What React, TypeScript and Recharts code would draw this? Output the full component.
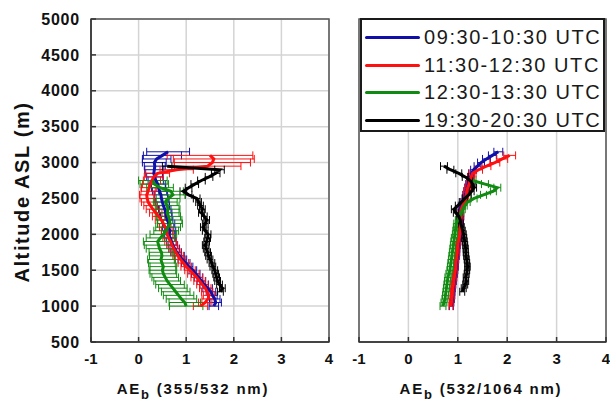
import {
  ScatterChart,
  Scatter,
  XAxis,
  YAxis,
  CartesianGrid,
  ErrorBar,
  ReferenceArea,
  Legend,
  Label,
} from 'recharts'

const FONT = 'Arial, "Liberation Sans", sans-serif'

// altitude levels of the lidar profiles (m ASL)
const ALTITUDES = [
  1000, 1050, 1100, 1150, 1200, 1250, 1300, 1350, 1400, 1450, 1500, 1550, 1600, 1650, 1700,
  1750, 1800, 1850, 1900, 1950, 2000, 2050, 2100, 2150, 2200, 2250, 2300, 2350, 2400, 2450,
  2500, 2550, 2600, 2650, 2700, 2750, 2800, 2850, 2900, 2950, 3000, 3050, 3100, 3150,
]

const X_TICKS = [-1, 0, 1, 2, 3, 4]
const Y_TICKS = [500, 1000, 1500, 2000, 2500, 3000, 3500, 4000, 4500, 5000]

const PERIODS = ['09:30-10:30 UTC', '11:30-12:30 UTC', '12:30-13:30 UTC', '19:30-20:30 UTC']
const COLORS = ['#1010a8', '#ff1010', '#108a10', '#000000']

type V = number | null

// AE 355/532
const AE1_BLUE: V[] = [1.58, 1.62, 1.6, 1.55, 1.52, 1.45, 1.38, 1.32, 1.26, 1.2, 1.14, 1.05, 0.99, 0.92, 0.86, 0.8, 0.76, 0.72, 0.69, 0.66, 0.64, 0.66, 0.62, 0.64, 0.6, 0.58, 0.57, 0.55, 0.52, 0.5, 0.48, 0.47, 0.44, 0.42, 0.4, 0.36, 0.34, 0.32, 0.33, 0.34, 0.33, 0.38, 0.5, 0.62]
const ERR1_BLUE: V[] = [0.1, 0.12, 0.11, 0.1, 0.1, 0.1, 0.09, 0.09, 0.09, 0.09, 0.08, 0.09, 0.09, 0.09, 0.1, 0.1, 0.1, 0.1, 0.1, 0.11, 0.11, 0.12, 0.12, 0.12, 0.12, 0.12, 0.13, 0.13, 0.13, 0.14, 0.14, 0.14, 0.15, 0.15, 0.16, 0.16, 0.17, 0.18, 0.2, 0.22, 0.25, 0.3, 0.4, 0.45]
const AE1_RED: V[] = [1.3, 1.4, 1.46, 1.48, 1.44, 1.4, 1.34, 1.28, 1.22, 1.15, 1.08, 1.0, 0.94, 0.88, 0.83, 0.78, 0.74, 0.7, 0.67, 0.63, 0.6, 0.6, 0.56, 0.52, 0.48, 0.42, 0.36, 0.3, 0.25, 0.2, 0.18, 0.17, 0.2, 0.22, 0.24, 0.28, 0.32, 0.4, 0.8, 1.45, 1.55, 1.58, 1.5, null]
const ERR1_RED: V[] = [0.15, 0.14, 0.13, 0.12, 0.12, 0.12, 0.12, 0.12, 0.12, 0.12, 0.11, 0.11, 0.11, 0.11, 0.11, 0.11, 0.11, 0.11, 0.12, 0.12, 0.12, 0.12, 0.12, 0.12, 0.13, 0.13, 0.13, 0.14, 0.14, 0.14, 0.15, 0.15, 0.15, 0.16, 0.16, 0.18, 0.2, 0.25, 0.35, 0.7, 0.8, 0.85, 0.9, null]
const AE1_GREEN: V[] = [1.0, 0.97, 0.9, 0.84, 0.78, 0.72, 0.66, 0.6, 0.56, 0.52, 0.5, 0.52, 0.49, 0.47, 0.49, 0.48, 0.44, 0.42, 0.4, 0.46, 0.52, 0.58, 0.62, 0.66, 0.65, 0.63, 0.6, 0.62, 0.6, 0.56, 0.62, 0.72, 0.68, 0.45, 0.33, 0.3, null, null, null, null, null, null, null, null]
const ERR1_GREEN: V[] = [0.35, 0.33, 0.32, 0.32, 0.3, 0.3, 0.3, 0.28, 0.28, 0.28, 0.28, 0.28, 0.28, 0.28, 0.26, 0.26, 0.28, 0.3, 0.3, 0.3, 0.28, 0.26, 0.26, 0.26, 0.26, 0.25, 0.25, 0.25, 0.25, 0.25, 0.25, 0.26, 0.26, 0.28, 0.3, 0.3, null, null, null, null, null, null, null, null]
const AE1_BLACK: V[] = [null, null, null, null, 1.72, 1.76, 1.7, 1.66, 1.64, 1.62, 1.6, 1.56, 1.54, 1.5, 1.47, 1.45, 1.42, 1.4, 1.43, 1.45, 1.46, 1.4, 1.36, 1.4, 1.43, 1.38, 1.32, 1.34, 1.3, 1.26, 1.22, 1.05, 0.94, 1.05, 1.18, 1.32, 1.48, 1.62, 1.7, 0.6, null, null, null, null]
const ERR1_BLACK: V[] = [null, null, null, null, 0.06, 0.06, 0.06, 0.06, 0.06, 0.06, 0.06, 0.06, 0.06, 0.06, 0.06, 0.06, 0.06, 0.06, 0.06, 0.06, 0.06, 0.06, 0.06, 0.06, 0.06, 0.06, 0.06, 0.06, 0.06, 0.06, 0.07, 0.07, 0.07, 0.07, 0.08, 0.08, 0.08, 0.09, 0.1, 0.1, null, null, null, null]

// AE 532/1064
const AE2_BLUE: V[] = [0.87, 0.88, 0.89, 0.9, 0.9, 0.91, 0.92, 0.93, 0.94, 0.95, 0.96, 0.97, 0.97, 0.98, 0.99, 1.0, 1.0, 1.01, 1.02, 1.04, 1.05, 1.06, 1.06, 1.07, 1.07, 1.08, 1.06, 1.05, 1.06, 1.1, 1.14, 1.15, 1.17, 1.19, 1.21, 1.23, 1.26, 1.28, 1.32, 1.4, 1.47, 1.58, 1.7, 1.82]
const ERR2_BLUE: V[] = [0.04, 0.04, 0.04, 0.04, 0.04, 0.04, 0.04, 0.04, 0.04, 0.04, 0.04, 0.04, 0.04, 0.04, 0.04, 0.04, 0.04, 0.04, 0.04, 0.04, 0.04, 0.04, 0.04, 0.04, 0.04, 0.04, 0.04, 0.04, 0.05, 0.05, 0.05, 0.05, 0.05, 0.05, 0.05, 0.05, 0.06, 0.06, 0.06, 0.07, 0.07, 0.08, 0.08, 0.09]
const AE2_RED: V[] = [0.86, 0.87, 0.88, 0.89, 0.89, 0.9, 0.91, 0.92, 0.93, 0.94, 0.95, 0.96, 0.96, 0.97, 0.98, 0.99, 0.99, 1.0, 1.01, 1.03, 1.04, 1.05, 1.05, 1.06, 1.06, 1.07, 1.06, 1.07, 1.1, 1.13, 1.16, 1.17, 1.18, 1.2, 1.23, 1.25, 1.27, 1.3, 1.42, 1.58, 1.75, 1.9, 2.05, null]
const ERR2_RED: V[] = [0.04, 0.04, 0.04, 0.04, 0.04, 0.04, 0.04, 0.04, 0.04, 0.04, 0.04, 0.04, 0.04, 0.04, 0.04, 0.04, 0.04, 0.04, 0.04, 0.04, 0.04, 0.04, 0.04, 0.04, 0.05, 0.05, 0.05, 0.05, 0.05, 0.05, 0.05, 0.05, 0.06, 0.06, 0.06, 0.06, 0.07, 0.07, 0.08, 0.09, 0.1, 0.11, 0.12, null]
const AE2_GREEN: V[] = [0.7, 0.72, 0.74, 0.75, 0.76, 0.77, 0.78, 0.79, 0.8, 0.82, 0.84, 0.85, 0.86, 0.87, 0.88, 0.89, 0.9, 0.91, 0.92, 0.93, 0.94, 0.95, 0.96, 0.97, 1.0, 1.04, 1.07, 1.1, 1.14, 1.2, 1.33, 1.52, 1.72, 1.8, 1.55, 1.3, null, null, null, null, null, null, null, null]
const ERR2_GREEN: V[] = [0.06, 0.06, 0.06, 0.06, 0.06, 0.06, 0.06, 0.06, 0.06, 0.06, 0.06, 0.06, 0.06, 0.06, 0.06, 0.06, 0.06, 0.06, 0.06, 0.06, 0.05, 0.05, 0.05, 0.05, 0.05, 0.05, 0.05, 0.05, 0.05, 0.05, 0.06, 0.06, 0.06, 0.07, 0.07, 0.07, null, null, null, null, null, null, null, null]
const AE2_BLACK: V[] = [null, null, null, null, 1.09, 1.12, 1.15, 1.17, 1.16, 1.18, 1.19, 1.2, 1.19, 1.18, 1.17, 1.16, 1.16, 1.15, 1.14, 1.13, 1.12, 1.1, 1.08, 1.06, 1.05, 1.02, 0.96, 0.92, 1.0, 1.08, 1.14, 1.22, 1.28, 1.33, 1.3, 1.25, 1.15, 1.02, 0.85, 0.72, null, null, null, null]
const ERR2_BLACK: V[] = [null, null, null, null, 0.05, 0.05, 0.05, 0.05, 0.05, 0.05, 0.05, 0.05, 0.05, 0.05, 0.05, 0.05, 0.05, 0.05, 0.05, 0.05, 0.05, 0.05, 0.05, 0.05, 0.05, 0.05, 0.05, 0.05, 0.05, 0.05, 0.05, 0.05, 0.05, 0.05, 0.05, 0.05, 0.06, 0.06, 0.07, 0.07, null, null, null, null]

type Pt = { x: number; y: number; err: number }

function profile(values: V[], errs: V[]): Pt[] {
  const pts: Pt[] = []
  values.forEach((v, i) => {
    if (v != null) pts.push({ x: v, y: ALTITUDES[i], err: errs[i] ?? 0 })
  })
  return pts
}

type Series = { name: string; color: string; data: Pt[] }

// drawing order: black goes under green on the left panel, on top on the right
const LEFT_SERIES: Series[] = [
  { name: PERIODS[0], color: COLORS[0], data: profile(AE1_BLUE, ERR1_BLUE) },
  { name: PERIODS[1], color: COLORS[1], data: profile(AE1_RED, ERR1_RED) },
  { name: PERIODS[3], color: COLORS[3], data: profile(AE1_BLACK, ERR1_BLACK) },
  { name: PERIODS[2], color: COLORS[2], data: profile(AE1_GREEN, ERR1_GREEN) },
]
const RIGHT_SERIES: Series[] = [
  { name: PERIODS[0], color: COLORS[0], data: profile(AE2_BLUE, ERR2_BLUE) },
  { name: PERIODS[1], color: COLORS[1], data: profile(AE2_RED, ERR2_RED) },
  { name: PERIODS[2], color: COLORS[2], data: profile(AE2_GREEN, ERR2_GREEN) },
  { name: PERIODS[3], color: COLORS[3], data: profile(AE2_BLACK, ERR2_BLACK) },
]

function NoMarker() {
  return <g />
}

function AxisTitle({ x, y, range }: { x: number; y: number; range: string }) {
  return (
    <text x={x} y={y} textAnchor="middle" fontFamily={FONT} fontWeight={700} fontSize={15} letterSpacing={1.8} fill="#111">
      <tspan>AE</tspan>
      <tspan dy={5} fontSize={13}>b</tspan>
      <tspan dy={-5}>{` (${range})`}</tspan>
    </text>
  )
}

function LegendBox() {
  return (
    <div
      style={{
        boxSizing: 'border-box',
        width: 245,
        height: 114,
        border: '2px solid #1a1a1a',
        background: '#fff',
        padding: '4px 0 0 3px',
        fontFamily: FONT,
      }}
    >
      {PERIODS.map((p, i) => (
        <div key={p} style={{ display: 'flex', alignItems: 'center', height: 27.5 }}>
          <span style={{ display: 'inline-block', width: 55, height: 3, borderRadius: 2, background: COLORS[i], marginRight: 4 }} />
          <span style={{ fontSize: 20, letterSpacing: 1.6, color: '#1a1a1a', whiteSpace: 'nowrap' }}>{p}</span>
        </div>
      ))}
    </div>
  )
}

const axisTick = { fontSize: 15, fontWeight: 700, fill: '#111', fontFamily: FONT }

function renderSeries(s: Series) {
  return (
    <Scatter
      key={s.name}
      name={s.name}
      data={s.data}
      fill={s.color}
      line={{ stroke: s.color, strokeWidth: 3 }}
      lineType="joint"
      shape={<NoMarker />}
      isAnimationActive={false}
    >
      <ErrorBar dataKey="err" direction="x" width={4} strokeWidth={1} stroke={s.color} isAnimationActive={false} />
    </Scatter>
  )
}

export default function App() {
  return (
    <div style={{ position: 'absolute', left: 0, top: 0, width: 610, height: 403, background: '#fff' }}>
      {/* AE 355/532 nm */}
      <div style={{ position: 'absolute', left: 0, top: 0 }}>
        <ScatterChart width={340} height={403} margin={{ top: 19, right: 11, bottom: 0, left: 0 }}>
          <CartesianGrid stroke="#d4d4d4" strokeWidth={1.5} />
          <ReferenceArea x1={-1} x2={4} y1={500} y2={5000} fill="none" stroke="#555" strokeWidth={1.5} />
          <XAxis
            type="number"
            dataKey="x"
            domain={[-1, 4]}
            ticks={X_TICKS}
            allowDataOverflow
            height={61}
            stroke="#333"
            strokeWidth={1.5}
            tickSize={-5}
            tickMargin={16}
            tick={axisTick}
          >
            <Label content={() => <AxisTitle x={193} y={394} range="355/532 nm" />} />
          </XAxis>
          <YAxis
            type="number"
            dataKey="y"
            domain={[500, 5000]}
            ticks={Y_TICKS}
            allowDataOverflow
            width={91}
            stroke="#333"
            strokeWidth={1.5}
            tickSize={-5}
            tickMargin={16}
            tick={{ ...axisTick, fontSize: 16, letterSpacing: 0.8 }}
          >
            <Label
              content={() => (
                <text
                  x={22}
                  y={192}
                  transform="rotate(-90 22 192)"
                  textAnchor="middle"
                  dominantBaseline="central"
                  fontFamily={FONT}
                  fontWeight={700}
                  fontSize={20}
                  letterSpacing={1.6}
                  fill="#111"
                >
                  Altitude ASL (m)
                </text>
              )}
            />
          </YAxis>
          {LEFT_SERIES.map(renderSeries)}
        </ScatterChart>
      </div>

      {/* AE 532/1064 nm */}
      <div style={{ position: 'absolute', left: 340, top: 0 }}>
        <ScatterChart width={270} height={403} margin={{ top: 19, right: 4, bottom: 0, left: 19 }}>
          <CartesianGrid stroke="#d4d4d4" strokeWidth={1.5} />
          <ReferenceArea x1={-1} x2={4} y1={500} y2={5000} fill="none" stroke="#555" strokeWidth={1.5} />
          <XAxis
            type="number"
            dataKey="x"
            domain={[-1, 4]}
            ticks={X_TICKS}
            allowDataOverflow
            height={61}
            stroke="#333"
            strokeWidth={1.5}
            tickSize={-5}
            tickMargin={16}
            tick={axisTick}
          >
            <Label content={() => <AxisTitle x={141} y={394} range="532/1064 nm" />} />
          </XAxis>
          <YAxis
            type="number"
            dataKey="y"
            domain={[500, 5000]}
            ticks={Y_TICKS}
            allowDataOverflow
            width={0}
            stroke="#333"
            strokeWidth={1.5}
            tickSize={-5}
            tick={false}
          />
          {RIGHT_SERIES.map(renderSeries)}
          <Legend
            layout="horizontal"
            verticalAlign="middle"
            align="center"
            content={() => <LegendBox />}
            wrapperStyle={{ left: 20, top: 18, width: 245, height: 114 }}
          />
        </ScatterChart>
      </div>
    </div>
  )
}
